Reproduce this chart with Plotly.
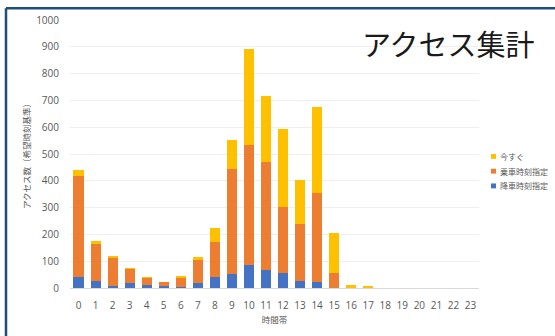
import plotly.graph_objects as go

hours = [str(h) for h in range(24)]
kousha = [40, 25, 7, 20, 13, 8, 4, 17, 41, 51, 84, 68, 55, 25, 22, 0, 0, 0, 0, 0, 0, 0, 0, 0]   # 降車時刻指定
jousha = [378, 141, 105, 51, 27, 16, 37, 86, 131, 393, 451, 402, 246, 214, 333, 55, 0, 0, 0, 0, 0, 0, 0, 0]  # 乗車時刻指定
imasugu = [21, 10, 4, 3, 1, 0, 5, 14, 51, 108, 358, 247, 294, 163, 319, 150, 10, 5, 0, 0, 0, 0, 0, 0]  # 今すぐ

names = ["降車時刻指定", "乗車時刻指定", "今すぐ"]
colors = ["#4472C4", "#ED7D31", "#FFC000"]
series = [kousha, jousha, imasugu]

FONT = "Open Sans, Noto Sans CJK JP, sans-serif"
GRAY = "#595959"

fig = go.Figure()
for n, c, v in zip(names, colors, series):
    fig.add_trace(go.Bar(x=hours, y=v, name=n, marker=dict(color=c, line=dict(width=0)),
                         showlegend=False))

fig.update_layout(
    width=555, height=336,
    margin=dict(l=70, r=76, t=17, b=46),
    barmode="stack", bargap=0.41,
    paper_bgcolor="white", plot_bgcolor="white",
    font=dict(family=FONT, color=GRAY, size=10),
)
fig.update_xaxes(
    type="category", showgrid=False, showline=True, linecolor="#d9d9d9", linewidth=1,
    ticks="", ticklabelstandoff=8, tickfont=dict(size=10, color=GRAY),
    title=dict(text="時間帯", font=dict(size=8.5, color=GRAY, family="Noto Sans CJK JP"), standoff=6),
)
fig.update_yaxes(
    range=[0, 1000], dtick=100, showgrid=True, gridcolor="#efefef", gridwidth=1,
    zeroline=False, showline=False, ticks="", ticklabelstandoff=10,
    tickfont=dict(size=10, color=GRAY),
    title=dict(text="アクセス数（希望時刻基準）", font=dict(size=8.5, color=GRAY, family="Noto Sans CJK JP"), standoff=4),
)

# Title
fig.add_annotation(text="アクセス集計", xref="paper", yref="paper",
                   x=(448 - 70) / 409, y=(290 - 40) / 273, xanchor="center", yanchor="middle",
                   showarrow=False, font=dict(size=29, color="#1a1a1a", family="Noto Sans CJK JP"))

# Legend (manual)
leg_items = [("今すぐ", "#FFC000", 156), ("乗車時刻指定", "#ED7D31", 171), ("降車時刻指定", "#4472C4", 186)]
for txt, col, py in leg_items:
    fig.add_shape(type="rect", xref="paper", yref="paper",
                  x0=(491 - 70) / 409, x1=(496 - 70) / 409,
                  y0=(290 - py - 2.5) / 273, y1=(290 - py + 2.5) / 273,
                  fillcolor=col, line=dict(width=0))
    fig.add_annotation(text=txt, xref="paper", yref="paper",
                       x=(498 - 70) / 409, y=(290 - py) / 273, xanchor="left", yanchor="middle",
                       showarrow=False, font=dict(size=8, color=GRAY, family="Noto Sans CJK JP"))

# Frame (top and left dark blue border)
BORDER = "#1F4E79"
fig.add_shape(type="line", xref="paper", yref="paper",
              x0=(6 - 70) / 409, x1=(560 - 70) / 409, y0=(290 - 5) / 273, y1=(290 - 5) / 273,
              line=dict(color=BORDER, width=2.5))
fig.add_shape(type="line", xref="paper", yref="paper",
              x0=(6 - 70) / 409, x1=(6 - 70) / 409, y0=(290 - 5) / 273, y1=(290 - 345) / 273,
              line=dict(color=BORDER, width=2.5))

fig.write_html("out.html")
